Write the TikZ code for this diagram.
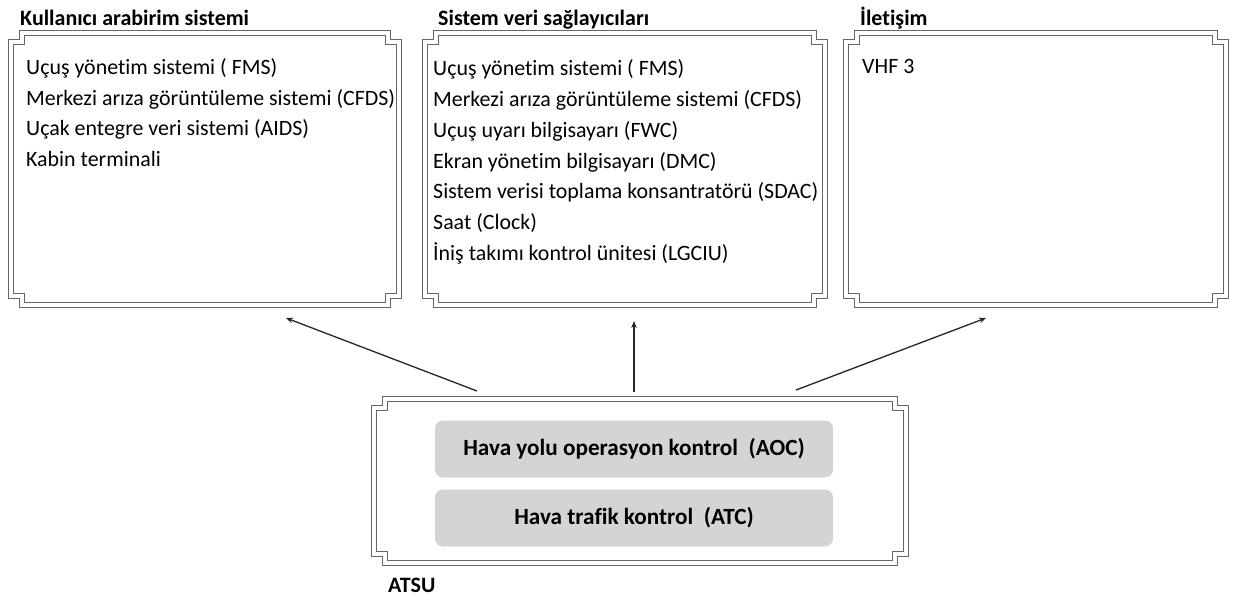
\documentclass[tikz,border=0pt]{standalone}
\usepackage{fontspec}
\setmainfont[Ligatures=NoCommon]{Carlito}
\usetikzlibrary{arrows.meta,calc}
\tikzset{
  boxline/.style={draw=black!60, line width=1.2pt, double=white, double distance=4.5pt},
  frame/.style={draw=none, inner sep=0pt, outer sep=0pt},
  title/.style={anchor=base west, inner sep=0pt, font=\fontsize{22}{24}\selectfont\bfseries},
  listtext/.style={anchor=north west, inner sep=0pt, align=left, font=\fontsize{21.9}{30.8}\selectfont},
  pill/.style={fill=black!17, rounded corners=8pt, minimum width=398pt, minimum height=57pt, inner sep=0pt, font=\fontsize{23.2}{25}\selectfont\bfseries},
  arr/.style={draw=black!85, line width=1.3pt, -{Stealth[length=7pt,width=5.5pt]}}
}
\newcommand{\crossframe}[1]{%
  \draw[boxline] ($(#1.north west)+(11,0)$) -- ($(#1.north east)+(-11,0)$) -- ($(#1.north east)+(-11,9)$)
    -- ($(#1.north east)+(0,9)$) -- ($(#1.south east)+(0,-9)$) -- ($(#1.south east)+(-11,-9)$)
    -- ($(#1.south east)+(-11,0)$) -- ($(#1.south west)+(11,0)$) -- ($(#1.south west)+(11,-9)$)
    -- ($(#1.south west)+(0,-9)$) -- ($(#1.north west)+(0,9)$) -- ($(#1.north west)+(11,9)$) -- cycle;}
\begin{document}
\begin{tikzpicture}[x=1pt,y=-1pt]
\useasboundingbox (0,0) rectangle (1233,600);
% frames
\node[frame, minimum width=388pt, minimum height=272pt] (b1) at (205,169) {};
\node[frame, minimum width=400pt, minimum height=272pt] (b2) at (625,169) {};
\node[frame, minimum width=380pt, minimum height=272pt] (b3) at (1036,169) {};
\node[frame, minimum width=532pt, minimum height=164pt] (atsu) at (640,481) {};
\crossframe{b1}
\crossframe{b2}
\crossframe{b3}
\crossframe{atsu}
% titles
\node[title] (t1) at (20,25) {Kullanıcı arabirim sistemi};
\node[title] (t2) at (438,25) {Sistem veri sağlayıcıları};
\node[title] (t3) at (860,25) {İletişim};
\node[title] (ta) at (388,592) {ATSU};
% lists
\node[listtext] (l1) at (26,58) {Uçuş yönetim sistemi ( FMS)\\Merkezi arıza görüntüleme sistemi (CFDS)\\Uçak entegre veri sistemi (AIDS)\\Kabin terminali};
\node[listtext] (l2) at (433,59.5) {Uçuş yönetim sistemi ( FMS)\\Merkezi arıza görüntüleme sistemi (CFDS)\\Uçuş uyarı bilgisayarı (FWC)\\Ekran yönetim bilgisayarı (DMC)\\Sistem verisi toplama konsantratörü (SDAC)\\Saat (Clock)\\İniş takımı kontrol ünitesi (LGCIU)};
\node[listtext] (l3) at (862,59.5) {VHF 3};
% pills
\node[pill] (aoc) at (634,449) {Hava yolu operasyon kontrol\ \ (AOC)};
\node[pill] (atc) at (634,518) {Hava trafik kontrol\ \ (ATC)};
% arrows
\coordinate (s1) at (477,391);
\coordinate (e1) at (286,318);
\coordinate (s2) at (634,392);
\coordinate (e2) at (634,321);
\coordinate (s3) at (796,390);
\coordinate (e3) at (986,318);
\draw[arr] (s1) -- (e1);
\draw[arr] (s2) -- (e2);
\draw[arr] (s3) -- (e3);
\end{tikzpicture}
\end{document}
